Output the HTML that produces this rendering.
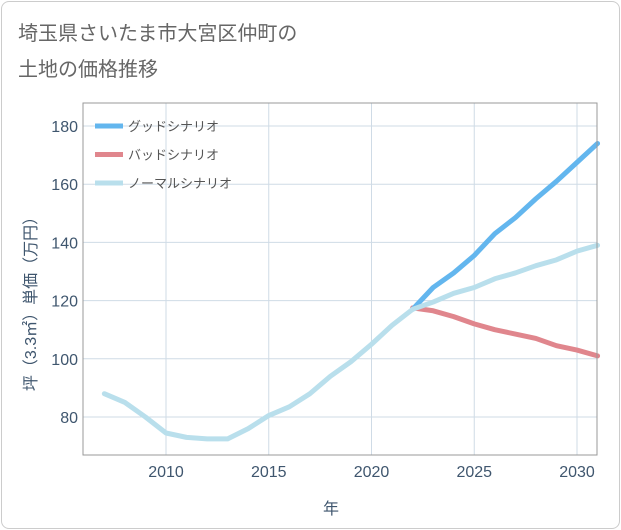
<!DOCTYPE html>
<html><head><meta charset="utf-8"><style>
body{margin:0;background:#fff;font-family:"Liberation Sans","Noto Sans CJK JP",sans-serif}
#card{position:absolute;left:1px;top:1px;width:617px;height:526px;border:1px solid #ccc;border-radius:8px;background:#fff}
</style></head><body>
<div id="card"></div>
<svg id="c" width="621" height="530" style="position:absolute;left:0;top:0">
<text x="18" y="40" font-size="20" fill="#666">埼玉県さいたま市大宮区仲町の</text>
<text x="18" y="76" font-size="20" fill="#666">土地の価格推移</text>
<g id="grid"></g><g id="lines"></g>
<rect x="83" y="103" width="514" height="352" fill="none" stroke="#999" stroke-width="1"/>
<g id="legend"></g>
<text x="331" y="514" font-size="16" fill="#3f566e" text-anchor="middle">年</text>
<text transform="translate(36,300) rotate(-90)" font-size="16" fill="#3f566e" text-anchor="middle">坪（3.3㎡）単価（万円）</text>
</svg>
<script>
const years=[2007,2008,2009,2010,2011,2012,2013,2014,2015,2016,2017,2018,2019,2020,2021,2022,2023,2024,2025,2026,2027,2028,2029,2030,2031];
const normal=[88,85,80,74.5,73,72.5,72.5,76,80.5,83.5,88,94,99,105,111.5,117,119.5,122.5,124.5,127.5,129.5,132,134,137,139];
const futYears=[2022,2023,2024,2025,2026,2027,2028,2029,2030,2031];
const good=[117,124.5,129.5,135.5,143,148.5,155,161,167.5,174];
const bad=[117.5,116.5,114.5,112,110,108.5,107,104.5,103,101];
const xTicks=[2010,2015,2020,2025,2030];
const yTicks=[80,100,120,140,160,180];
const X=v=>166+(v-2010)*20.55, Y=v=>417-(v-80)*2.91;
const NS="http://www.w3.org/2000/svg";
function mk(p,t,a){const e=document.createElementNS(NS,t);for(const k in a)e.setAttribute(k,a[k]);p.appendChild(e);return e;}
const g=document.getElementById('grid'),L=document.getElementById('lines'),lg=document.getElementById('legend');
xTicks.forEach(t=>{const l=mk(g,'line',{x1:X(t),x2:X(t),y1:103,y2:455,stroke:'#cfdbe6'});

const s=mk(g,'text',{x:X(t),y:477,'font-size':16,fill:'#3f566e','text-anchor':'middle'});s.textContent=t;
});
yTicks.forEach(t=>{const l=mk(g,'line',{x1:83,x2:597,y1:Y(t),y2:Y(t),stroke:'#cfdbe6'});

const s=mk(g,'text',{x:78,y:Y(t)+6,'font-size':16,fill:'#3f566e','text-anchor':'end'});s.textContent=t;
});
function line(xs,ys,c,n){const p=mk(L,'polyline',{points:xs.map((x,i)=>X(x)+','+Y(ys[i])).join(' '),fill:'none',stroke:c,'stroke-width':5,'stroke-linejoin':'round','stroke-linecap':'round'});
}
line(futYears,bad,'#e0868d','bad-scenario-line');
line(futYears,good,'#63b6ee','good-scenario-line');
line(years,normal,'#b9dfec','normal-scenario-line');
[['グッドシナリオ','#63b6ee'],['バッドシナリオ','#e0868d'],['ノーマルシナリオ','#b9dfec']].forEach((d,i)=>{
const y=126+i*28.5;const r=mk(lg,'line',{x1:95,x2:123,y1:y,y2:y,stroke:d[1],'stroke-width':5});

const t=mk(lg,'text',{x:128,y:y+5,'font-size':13,fill:'#555'});t.textContent=d[0];
});
</script>
</body></html>
